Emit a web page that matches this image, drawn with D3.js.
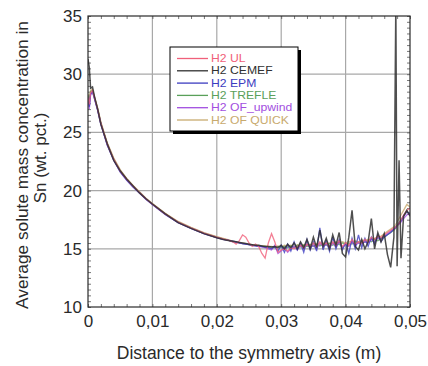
<!DOCTYPE html>
<html>
<head>
<meta charset="utf-8">
<script src="https://cdn.jsdelivr.net/npm/d3@7"></script>
<style>
  html, body { margin: 0; padding: 0; background: #fff; }
  svg { display: block; font-family: "Liberation Sans", Arial, sans-serif; }
</style>
</head>
<body>
<svg id="chart" width="428" height="366"></svg>
<script>
// ---------- data ----------
const xTicks = [0, 0.01, 0.02, 0.03, 0.04, 0.05];
const xTickLabels = ["0", "0,01", "0,02", "0,03", "0,04", "0,05"];
const yTicks = [10, 15, 20, 25, 30, 35];
const yTickLabels = ["10", "15", "20", "25", "30", "35"];
const seriesNames = ["H2 UL", "H2 CEMEF", "H2 EPM", "H2 TREFLE", "H2 OF_upwind", "H2 OF QUICK"];
const seriesColors = ["#f0607a", "#303030", "#3c3cc0", "#5aa05a", "#a24ee0", "#c8aa6e"];

const distance = [0, 0.0002, 0.0004, 0.0007, 0.001, 0.0015, 0.002, 0.003, 0.004, 0.005,
  0.006, 0.007, 0.008, 0.009, 0.010, 0.012, 0.014, 0.016, 0.018, 0.020, 0.021, 0.022,
  0.0225, 0.023, 0.0235, 0.024, 0.0245, 0.025, 0.0255, 0.026, 0.0265, 0.027,
  0.0275, 0.028, 0.0285, 0.029, 0.0295, 0.030, 0.0305, 0.031, 0.0315, 0.032,
  0.0325, 0.033, 0.0335, 0.034, 0.0345, 0.035, 0.0355, 0.036, 0.0365, 0.037,
  0.0375, 0.038, 0.0385, 0.039, 0.0395, 0.040, 0.0405, 0.041, 0.0415, 0.042,
  0.0425, 0.043, 0.0435, 0.044, 0.0445, 0.045, 0.0455, 0.046, 0.0465, 0.047,
  0.0475, 0.0478, 0.048, 0.0483, 0.0486, 0.049, 0.0495, 0.05];

const ulValues = [28.0, 27.4, 28.4, 28.6, 28.0, 27.0, 25.8, 24.0, 22.7, 21.7,
  21.0, 20.4, 19.85, 19.3, 18.85, 18.0, 17.3, 16.8, 16.35, 16.0, 15.85, 15.7,
  15.6, 15.4, 15.7, 16.2, 16.0, 15.5, 15.2, 15.4, 15.2, 14.6,
  14.2, 15.5, 16.3, 15.6, 14.7, 14.9, 15.0, 14.8, 15.1, 15.0,
  15.2, 15.3, 15.1, 15.4, 15.2, 15.5, 15.2, 15.6, 15.3, 15.5,
  15.2, 15.6, 15.3, 15.7, 15.2, 15.5, 15.3, 15.8, 15.4, 15.6,
  15.5, 15.8, 15.6, 16.0, 15.8, 16.1, 16.0, 16.2, 16.4, 16.6,
  16.8, 16.9, 17.0, 17.2, 17.5, 17.9, 18.3, 18.5];

const cemefValues = [31.3, 30.6, 28.8, 28.9, 28.1, 27.0, 25.7, 24.0, 22.6, 21.7,
  21.0, 20.4, 19.8, 19.3, 18.85, 18.0, 17.25, 16.75, 16.3, 15.95, 15.8, 15.7,
  15.65, 15.6, 15.55, 15.5, 15.45, 15.4, 15.35, 15.3, 15.3, 15.25,
  15.2, 15.2, 15.15, 15.2, 15.1, 15.3, 15.0, 15.4, 15.1, 15.5,
  15.0, 15.6, 15.1, 15.8, 15.0, 16.0, 15.1, 16.6, 15.2, 15.9,
  15.0, 16.2, 15.3, 16.4, 14.6, 14.3, 16.0, 18.3, 15.2, 14.9,
  15.8, 15.0, 15.6, 17.6, 15.0, 16.4, 15.6, 16.3, 14.5, 13.4,
  16.0, 36.0, 13.5, 22.6, 14.2, 17.8, 18.3, 17.8];

const epmValues = [28.0, 27.2, 28.3, 28.5, 27.9, 26.9, 25.7, 23.9, 22.6, 21.6,
  20.9, 20.3, 19.8, 19.25, 18.8, 17.95, 17.25, 16.75, 16.3, 15.95, 15.8, 15.7,
  15.65, 15.6, 15.5, 15.45, 15.4, 15.35, 15.3, 15.25, 15.2, 15.2,
  15.15, 15.1, 15.0, 15.2, 14.8, 15.3, 14.7, 15.4, 14.8, 15.6,
  14.9, 15.5, 14.7, 15.8, 14.9, 15.6, 14.8, 16.8, 14.9, 15.7,
  14.8, 16.0, 15.0, 15.8, 14.9, 15.5, 14.6, 15.9, 15.0, 16.2,
  15.1, 15.9, 15.2, 16.0, 15.4, 16.2, 15.6, 16.0, 16.2, 16.4,
  16.7, 16.9, 17.0, 17.2, 17.4, 17.8, 18.2, 18.0];

const trefleValues = [28.2, 27.8, 28.5, 28.6, 28.0, 27.0, 25.8, 24.0, 22.7, 21.7,
  21.0, 20.4, 19.85, 19.3, 18.85, 18.0, 17.3, 16.8, 16.35, 16.0, 15.85, 15.7,
  15.6, 15.55, 15.5, 15.45, 15.4, 15.35, 15.3, 15.3, 15.25, 15.2,
  15.2, 15.15, 15.15, 15.1, 15.2, 15.1, 15.2, 15.1, 15.25, 15.1,
  15.3, 15.15, 15.3, 15.2, 15.35, 15.2, 15.4, 15.25, 15.4, 15.3,
  15.45, 15.3, 15.5, 15.35, 15.5, 15.4, 15.5, 15.4, 15.6, 15.5,
  15.6, 15.55, 15.7, 15.6, 15.8, 15.7, 15.9, 16.0, 16.2, 16.4,
  16.6, 16.8, 17.0, 17.2, 17.5, 17.8, 18.2, 18.0];

const upwindValues = [27.8, 27.0, 28.2, 28.5, 27.9, 26.9, 25.7, 23.9, 22.6, 21.6,
  20.9, 20.3, 19.8, 19.25, 18.8, 17.95, 17.25, 16.75, 16.3, 15.95, 15.8, 15.7,
  15.6, 15.55, 15.5, 15.45, 15.4, 15.35, 15.3, 15.25, 15.2, 15.15,
  15.1, 15.0, 14.9, 15.3, 14.6, 14.8, 15.1, 14.7, 15.0, 15.2,
  14.9, 15.3, 15.0, 15.4, 15.1, 15.3, 15.0, 15.5, 15.2, 15.4,
  15.1, 15.5, 15.2, 15.6, 15.1, 15.4, 15.2, 15.6, 15.3, 15.5,
  15.4, 15.6, 15.5, 15.8, 15.6, 15.9, 15.9, 16.1, 16.3, 16.5,
  16.7, 16.8, 17.0, 17.1, 17.3, 17.6, 17.9, 18.1];

const quickValues = [28.3, 27.9, 28.6, 28.7, 28.1, 27.1, 25.9, 24.1, 22.8, 21.8,
  21.05, 20.45, 19.9, 19.35, 18.9, 18.05, 17.35, 16.85, 16.4, 16.05, 15.9, 15.75,
  15.65, 15.6, 15.55, 15.5, 15.45, 15.4, 15.35, 15.3, 15.3, 15.25,
  15.25, 15.2, 15.2, 15.15, 15.25, 15.15, 15.3, 15.2, 15.3, 15.2,
  15.35, 15.25, 15.35, 15.3, 15.4, 15.3, 15.45, 15.35, 15.5, 15.4,
  15.5, 15.45, 15.6, 15.5, 15.6, 15.5, 15.65, 15.55, 15.7, 15.6,
  15.75, 15.7, 15.8, 15.8, 15.9, 16.0, 16.1, 16.3, 16.5, 16.7,
  16.9, 17.1, 17.3, 17.6, 17.9, 18.3, 18.8, 18.6];

const seriesValues = [ulValues, cemefValues, epmValues, trefleValues, upwindValues, quickValues];

// ---------- layout ----------
const svg = d3.select("#chart");
const plot = { left: 88, right: 410, top: 16, bottom: 307 };
const x = d3.scaleLinear().domain([0, 0.05]).range([plot.left, plot.right]);
const y = d3.scaleLinear().domain([10, 35]).range([plot.bottom, plot.top]);
const axisColor = "#2a2a2a";

svg.append("rect").attr("width", 428).attr("height", 366).attr("fill", "#fff");

// grid
const grid = svg.append("g");
grid.selectAll("line.gx").data(xTicks.slice(1, -1)).enter().append("line")
  .attr("x1", d => x(d)).attr("x2", d => x(d))
  .attr("y1", plot.top).attr("y2", plot.bottom)
  .attr("stroke", "#a8a8a8").attr("stroke-width", 1.2);
grid.selectAll("line.gy").data(yTicks.slice(1, -1)).enter().append("line")
  .attr("y1", d => y(d)).attr("y2", d => y(d))
  .attr("x1", plot.left).attr("x2", plot.right)
  .attr("stroke", "#a8a8a8").attr("stroke-width", 1.2);

// minor ticks (inside, all four sides) via d3 axes
const xMinor = d3.range(0, 0.05001, 0.002);
const yMinor = d3.range(10, 35.001, 0.5);
function minorAxis(axis, tr) {
  const g = svg.append("g").attr("transform", tr).call(axis);
  g.select(".domain").remove();
  g.selectAll("text").remove();
  g.selectAll("line").attr("stroke", "#555").attr("stroke-width", 0.8);
}
minorAxis(d3.axisTop(x).tickValues(xMinor).tickSize(3), `translate(0,${plot.bottom})`);
minorAxis(d3.axisBottom(x).tickValues(xMinor).tickSize(3), `translate(0,${plot.top})`);
minorAxis(d3.axisRight(y).tickValues(yMinor).tickSize(3), `translate(${plot.left},0)`);
minorAxis(d3.axisLeft(y).tickValues(yMinor).tickSize(3), `translate(${plot.right},0)`);

// curves
svg.append("clipPath").attr("id", "clip").append("rect")
  .attr("x", plot.left).attr("y", plot.top)
  .attr("width", plot.right - plot.left).attr("height", plot.bottom - plot.top);
const line = d3.line().x((d, i) => x(distance[i])).y(d => y(d));
const drawOrder = [5, 3, 4, 2, 0, 1];
const curves = svg.append("g").attr("clip-path", "url(#clip)");
drawOrder.forEach(k => {
  curves.append("path").datum(seriesValues[k])
    .attr("d", line).attr("fill", "none")
    .attr("stroke", seriesColors[k])
    .attr("stroke-width", k === 1 ? 1.5 : 1.3)
    .attr("stroke-opacity", k === 1 ? 0.85 : 0.8);
});

// frame
svg.append("rect").attr("x", plot.left).attr("y", plot.top)
  .attr("width", plot.right - plot.left).attr("height", plot.bottom - plot.top)
  .attr("fill", "none").attr("stroke", axisColor).attr("stroke-width", 1.2);

// tick labels
const xAxis = d3.axisBottom(x).tickValues(xTicks).tickSize(0).tickPadding(0)
  .tickFormat((d, i) => xTickLabels[i]);
const gx = svg.append("g").attr("transform", `translate(0,${plot.bottom})`).call(xAxis);
gx.select(".domain").remove();
gx.selectAll("text").attr("dy", null).attr("y", 20).attr("font-size", 17)
  .attr("font-family", "Liberation Sans, Arial, sans-serif").attr("fill", axisColor);

const yAxis = d3.axisLeft(y).tickValues(yTicks).tickSize(0).tickPadding(6)
  .tickFormat((d, i) => yTickLabels[i]);
const gy = svg.append("g").attr("transform", `translate(${plot.left},0)`).call(yAxis);
gy.select(".domain").remove();
gy.selectAll("text").attr("font-size", 17)
  .attr("font-family", "Liberation Sans, Arial, sans-serif").attr("fill", axisColor);

// axis titles
svg.append("text").attr("x", (plot.left + plot.right) / 2).attr("y", 359)
  .attr("text-anchor", "middle").attr("font-size", 17.5).attr("fill", axisColor)
  .text("Distance to the symmetry axis (m)");
svg.append("text").attr("transform", "translate(28,165) rotate(-90)")
  .attr("text-anchor", "middle").attr("font-size", 17.3).attr("fill", axisColor)
  .text("Average solute mass concentration in");
svg.append("text").attr("transform", "translate(46,158) rotate(-90)")
  .attr("text-anchor", "middle").attr("font-size", 17).attr("fill", axisColor)
  .text("Sn (wt. pct.)");

// legend
const leg = { x: 170, y: 47, w: 128, h: 84 };
const lg = svg.append("g");
lg.append("rect").attr("x", leg.x + 3).attr("y", leg.y + 3).attr("width", leg.w).attr("height", leg.h)
  .attr("fill", "#000");
lg.append("rect").attr("x", leg.x).attr("y", leg.y).attr("width", leg.w).attr("height", leg.h)
  .attr("fill", "#fff").attr("stroke", "#000").attr("stroke-width", 1);
const rowY = d3.scaleLinear().domain([0, 5]).range([leg.y + 11.5, leg.y + 73]);
seriesNames.forEach((name, i) => {
  lg.append("line").attr("x1", leg.x + 7).attr("x2", leg.x + 38)
    .attr("y1", rowY(i)).attr("y2", rowY(i))
    .attr("stroke", seriesColors[i]).attr("stroke-width", 1.3);
  lg.append("text")
    .attr("transform", `translate(${leg.x + 41},${rowY(i)}) scale(1.22,1)`)
    .attr("dy", "0.35em")
    .attr("font-size", 10).attr("fill", seriesColors[i]).text(name);
});
</script>
</body>
</html>
